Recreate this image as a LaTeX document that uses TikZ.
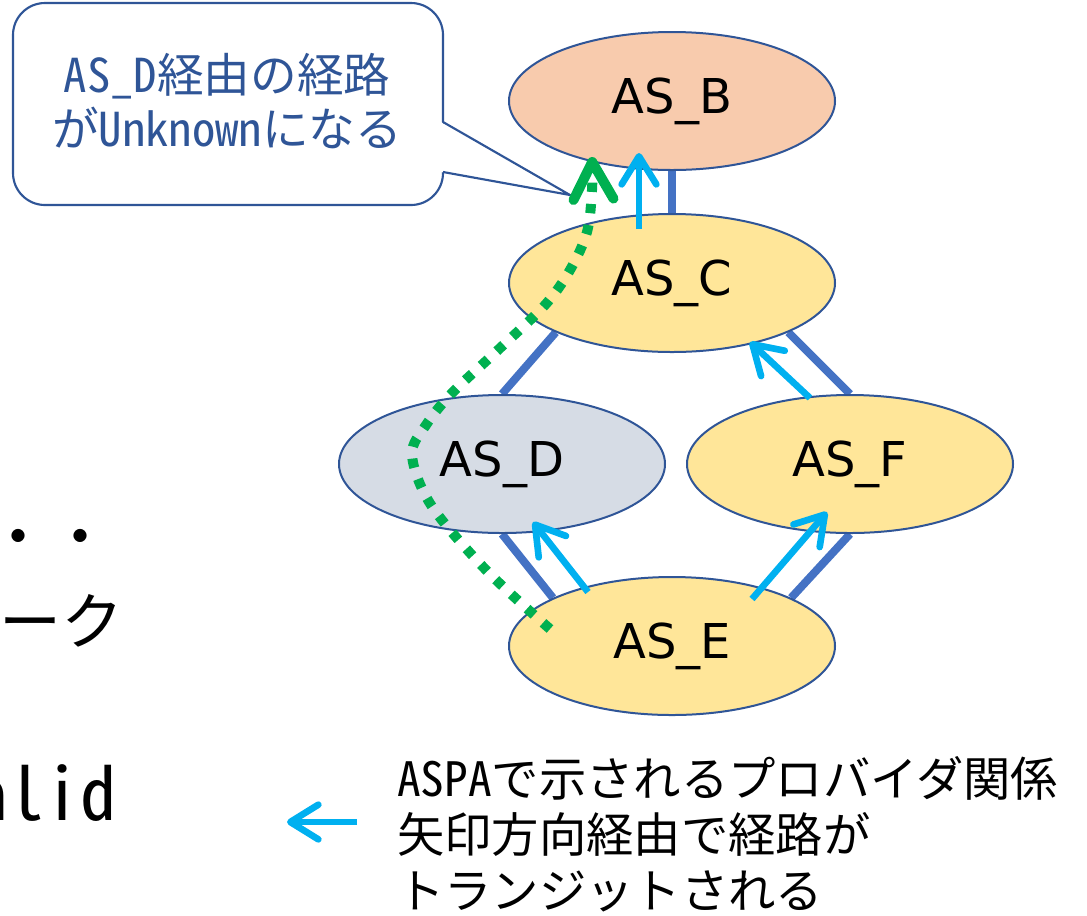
\documentclass[tikz,border=0pt]{standalone}
\usepackage{fontspec}
\usetikzlibrary{shapes.geometric,arrows.meta}
\newfontfamily\jp{Noto Sans CJK JP}
\newfontfamily\jplat[RawFeature=+hwid]{Noto Sans CJK JP}
\newfontfamily\asfont{DejaVu Sans}
\definecolor{peach}{HTML}{F8CBAD}
\definecolor{gold}{HTML}{FFE699}
\definecolor{grayblue}{HTML}{D6DCE5}
\definecolor{edgeblue}{HTML}{2F5597}
\definecolor{linkblue}{HTML}{4472C4}
\definecolor{cyanarrow}{HTML}{00B0F0}
\definecolor{greenpath}{HTML}{00B050}
\begin{document}
\begin{tikzpicture}[x=0.75pt,y=-0.75pt,
  asnode/.style={ellipse, draw=edgeblue, line width=1.5pt, minimum width=244.5pt,
    minimum height=103.5pt, inner sep=0pt, font=\asfont\fontsize{36}{40}\selectfont},
  peering/.style={draw=linkblue, line width=6pt},
  transit/.style={draw=cyanarrow, line width=5pt,
    -{Straight Barb[length=21pt 0, width=26pt 0, round]}},
  unknownpath/.style={draw=greenpath, line width=7.5pt, dash pattern=on 7pt off 9pt,
    -{Straight Barb[length=28pt 0, width=30pt 0, round]}},
  bodytext/.style={inner sep=0pt, text=black}
]
\useasboundingbox (0,0) rectangle (1087,915);

% partially visible slide text at the left edge
\node[bodytext, anchor=base west, font=\jp\fontsize{46.5}{50}\selectfont] (dots) at (-13,559) {・・};
\node[bodytext, anchor=base west, font=\jp\fontsize{46.5}{50}\selectfont] (ku) at (-1,644) {ーク};
\node[bodytext, anchor=base west, font=\jplat\fontsize{54}{58}\selectfont] (alid) at (-28,820) {alid};

% callout
\path[draw=edgeblue, line width=1.6pt, fill=white, rounded corners=24pt] (13,3) rectangle (443,205);
\fill[white] (441,122) -- (570,195) -- (441,172) -- cycle;
\draw[edgeblue, line width=1.6pt, line join=miter] (443,122) -- (570,195) -- (443,172);
\node[inner sep=0pt, align=center, text=edgeblue, font=\jp\fontsize{35}{41}\selectfont] (callout) at (227,101)
  {{\jplat AS\_D}経由の経路\\が{\jplat Unknown}になる};

% node positions
\coordinate (pB) at (672,101);
\coordinate (pC) at (672,283);
\coordinate (pD) at (502,464);
\coordinate (pF) at (850,464);
\coordinate (pE) at (672,646);

% peering links (behind nodes)
\path (pB) node[asnode, draw=none] (B0) {};
\path (pC) node[asnode, draw=none] (C0) {};
\path (pD) node[asnode, draw=none] (D0) {};
\path (pF) node[asnode, draw=none] (F0) {};
\path (pE) node[asnode, draw=none] (E0) {};
\draw[peering] (B0.south) -- (C0.north);
\draw[peering] (C0.203) -- (D0.north);
\draw[peering] (C0.337) -- (F0.north);
\draw[peering] (D0.south) -- (E0.158);
\draw[peering] (F0.south) -- (E0.22);

\node[asnode, fill=peach] (B) at (pB) {AS\_B};
\node[asnode, fill=gold] (C) at (pC) {AS\_C};
\node[asnode, fill=grayblue] (D) at (pD) {AS\_D};
\node[asnode, fill=gold] (F) at (pF) {AS\_F};
\node[asnode, fill=gold] (E) at (pE) {AS\_E};

% transit arrows
\coordinate (cbT) at (639,229); \coordinate (cbH) at (639,153);
\coordinate (fcT) at (810,398); \coordinate (fcH) at (750,342);
\coordinate (edT) at (588,592); \coordinate (edH) at (533,522);
\coordinate (efT) at (752,599); \coordinate (efH) at (827,512);
\draw[transit] (cbT) -- (cbH);
\draw[transit] (fcT) -- (fcH);
\draw[transit] (edT) -- (edH);
\draw[transit] (efT) -- (efH);

% unknown path via AS_D
\draw[unknownpath] plot[smooth, tension=0.55] coordinates
  {(550,629) (486,570) (431,505) (412,455) (426,425) (452,393) (498,350) (545,305) (570,270) (587,232) (592,190) (592,157)};

% legend
\coordinate (lgT) at (357,822); \coordinate (lgH) at (287,822);
\draw[transit] (lgT) -- (lgH);
\node[inner sep=0pt, anchor=west, align=left, text=black, font=\jp\fontsize{35.5}{42}\selectfont] (legend) at (397,834)
  {{\jplat ASPA}で示されるプロバイダ関係\\矢印方向経由で経路が\\トランジットされる};
\end{tikzpicture}
\end{document}
